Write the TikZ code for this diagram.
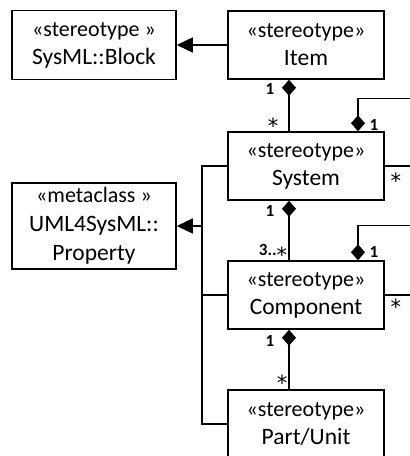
\documentclass[tikz,border=0pt]{standalone}
\usepackage{fontspec}
\setmainfont{Carlito}
\newfontfamily\starfont{DejaVu Sans}
\usepackage{tikz}
\usetikzlibrary{arrows.meta, positioning, calc}

\tikzset{
  umlbox/.style={draw, line width=1.5pt, align=center, inner sep=0pt,
    minimum width=156pt, minimum height=68pt,
    font=\fontsize{23.5}{28}\selectfont},
  gen/.style={line width=1.5pt, -{Triangle[length=16pt,width=15pt]}},
  comp/.style={line width=1.5pt, -{Diamond[length=16pt,width=14pt]}},
  link/.style={line width=1.5pt},
  multnum/.style={font=\fontsize{17}{19}\selectfont\bfseries, inner sep=0pt},
  multstar/.style={inner sep=0pt}
}
\newcommand{\stereo}[1]{{\fontsize{22}{28}\selectfont «#1»}}
\newcommand{\umlstar}{\raisebox{-7pt}[9pt][0pt]{\starfont\mdseries\fontsize{21}{21}\selectfont*}}

\begin{document}
\begin{tikzpicture}[x=1pt, y=-1pt]
    \useasboundingbox (0,0) rectangle (410,456);
    \node[umlbox, minimum width=164pt, minimum height=69pt] (block) at (94,45)
      {\stereo{stereotype }\\SysML::Block};
    \node[umlbox] (item) at (306,45) {\stereo{stereotype}\\Item};
    \node[umlbox] (system) at (306,166) {\stereo{stereotype}\\System};
    \node[umlbox, minimum width=164pt, minimum height=86pt,
          font=\fontsize{23.5}{29}\selectfont] (property) at (94,226)
      {\stereo{metaclass }\\UML4SysML::\\Property};
    \node[umlbox] (component) at (306,295) {\stereo{stereotype}\\Component};
    \node[umlbox] (part) at (306,424) {\stereo{stereotype}\\Part/Unit};
    \coordinate (bus) at (202,226);

    \draw[gen] (item) -- (block);
    \draw[link] (system.west) -| (bus) |- (part.west);
    \draw[link] (component.west) -- (component.west -| bus);
    \draw[gen] (bus) -- (property.east);

    \draw[comp] ([xshift=-17pt]system.north) -- ([xshift=-17pt]item.south);
    \draw[comp] ([xshift=-17pt]component.north) -- ([xshift=-17pt]system.south);
    \draw[comp] ([xshift=-17pt]part.north) -- ([xshift=-17pt]component.south);
    \draw[comp] (system.east) -- ++(40,0)
      |- ([xshift=52pt, yshift=33pt]system.north) -- ([xshift=52pt]system.north);
    \draw[comp] (component.east) -- ++(40,0)
      |- ([xshift=52pt, yshift=35pt]component.north) -- ([xshift=52pt]component.north);

    \node[multnum] (itemone) at ([xshift=-36pt, yshift=-9pt]item.south) {1};
    \node[multstar] (systemstar) at ([xshift=-33pt, yshift=9pt]system.north) {\umlstar};
    \node[multnum] (sysloopone) at ([xshift=68pt, yshift=6pt]system.north) {1};
    \node[multstar] (sysloopstar) at ([xshift=11pt, yshift=-11pt]system.east) {\umlstar};
    \node[multnum] (systemone) at ([xshift=-36pt, yshift=-10pt]system.south) {1};
    \node[multnum, anchor=base] (compmany) at ([xshift=-33pt, yshift=5pt]component.north)
      {3..\umlstar};
    \node[multnum] (comploopone) at ([xshift=68pt, yshift=8pt]component.north) {1};
    \node[multstar] (comploopstar) at ([xshift=11pt, yshift=-8pt]component.east) {\umlstar};
    \node[multnum] (compone) at ([xshift=-36pt, yshift=-11pt]component.south) {1};
    \node[multstar] (partstar) at ([xshift=-24pt, yshift=10pt]part.north) {\umlstar};
\end{tikzpicture}
\end{document}
